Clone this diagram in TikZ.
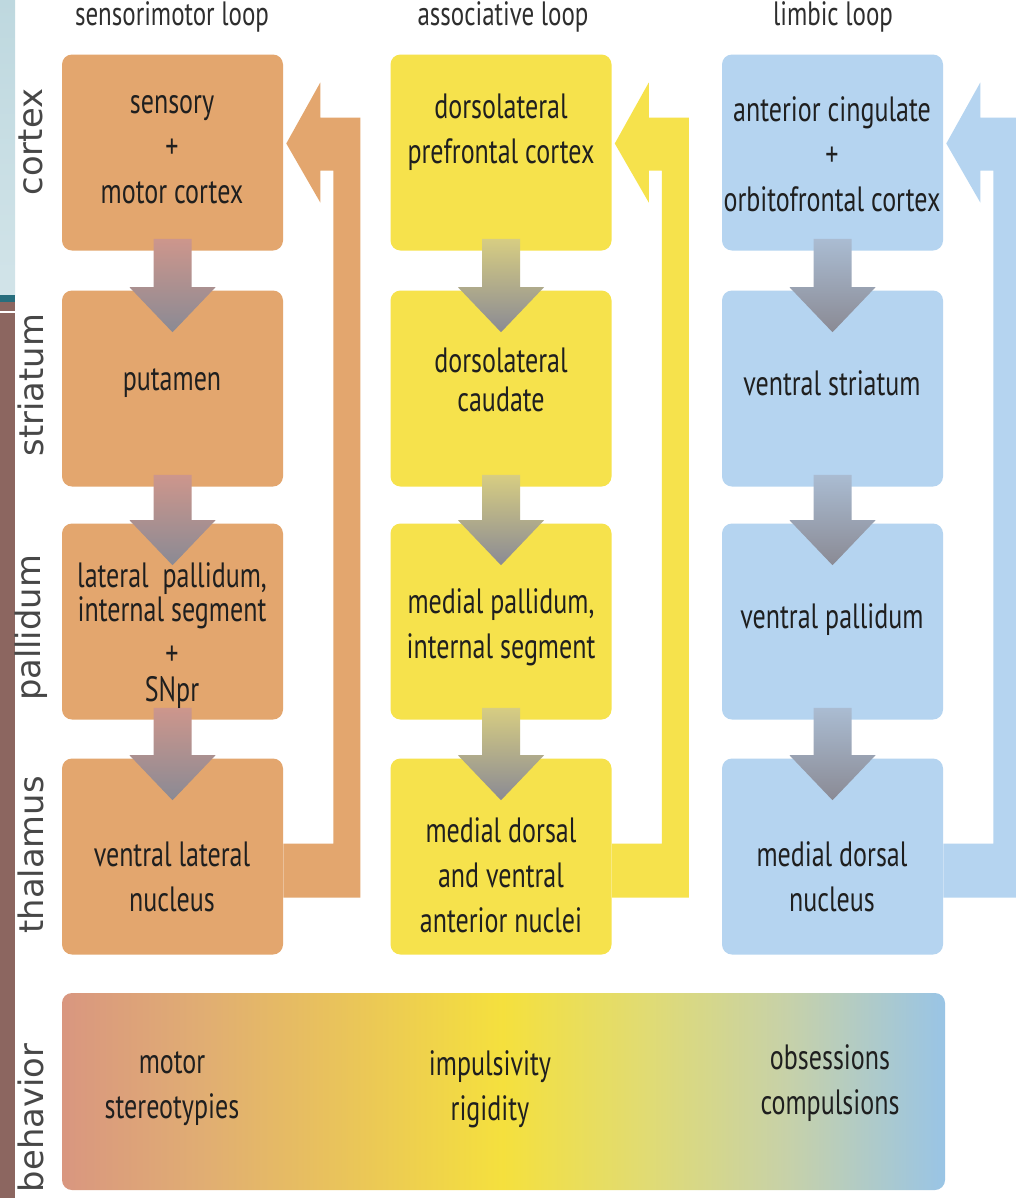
\documentclass[tikz,border=0pt]{standalone}
\usepackage{fontspec}
\setmainfont[FakeStretch=0.74]{PT Sans}
\newfontfamily\rowfont{DejaVu Sans}
\usetikzlibrary{calc,positioning,shapes.misc}

\definecolor{colorSM}{RGB}{227,166,110}
\definecolor{colorAS}{RGB}{246,226,76}
\definecolor{colorLI}{RGB}{181,212,240}
\definecolor{colorGR}{RGB}{138,138,148}
\definecolor{colorSMtop}{RGB}{205,150,140}
\definecolor{colorAStop}{RGB}{215,205,130}
\definecolor{colorLItop}{RGB}{170,188,210}
\definecolor{colorSlide}{RGB}{140,102,96}
\definecolor{colorSlideTop}{RGB}{190,216,223}
\definecolor{colorSlideLine}{RGB}{40,110,125}

\pgfdeclarehorizontalshading{behaviorshade}{100bp}{%
  rgb(0bp)=(0.85,0.59,0.50); rgb(25bp)=(0.85,0.59,0.50);
  rgb(33bp)=(0.88,0.68,0.45); rgb(42bp)=(0.92,0.78,0.34);
  rgb(50bp)=(0.96,0.88,0.24); rgb(58bp)=(0.88,0.86,0.45);
  rgb(66bp)=(0.78,0.82,0.66); rgb(75bp)=(0.60,0.77,0.90);
  rgb(100bp)=(0.60,0.77,0.90)}

\tikzset{
   every path/.style={>=stealth},
   box/.style={fill=#1, rounded corners=0.25cm, inner sep=0pt,
      minimum width=221*0.025cm, minimum height=196*0.025cm},
   behav/.style={shading=behaviorshade, rounded corners=0.25cm, inner sep=0pt,
      minimum width=883*0.025cm, minimum height=197*0.025cm},
   txt/.style={align=center, text=black!88, inner sep=0pt,
      font=\fontsize{25}{32}\selectfont},
   looptitle/.style={text=black!82, inner sep=0pt,
      font=\fontsize{24}{28}\selectfont},
   rowlabel/.style={rotate=90, text=black!72, inner sep=0pt,
      font=\rowfont\fontsize{24}{28}\selectfont},
}

% down arrow: from box, to box, top colour
\newcommand{\flowdown}[3]{%
  \shade[top color=#3, bottom color=colorGR]
    ($(#1.south)+(-19,-12)$) -- ($(#2.north)+(-19,-3)$)
    -- ($(#2.north)+(-43,-3)$) -- ($(#2.north)+(0,42)$)
    -- ($(#2.north)+(43,-3)$) -- ($(#2.north)+(19,-3)$)
    -- ($(#1.south)+(19,-12)$) -- cycle;
}

% feedback arrow: from thalamus box, to cortex box, colour
\newcommand{\loopback}[3]{%
  \fill[#3]
    ($(#1.east)+(0,-13)$) -- ($(#1.east)+(50,-13)$)
    -- ($(#2.east)+(50,18)$) -- ($(#2.east)+(37,18)$)
    -- ($(#2.east)+(37,50)$) -- ($(#2.east)+(3,-9)$)
    -- ($(#2.east)+(37,-70)$) -- ($(#2.east)+(37,-35)$)
    -- ($(#2.east)+(77,-35)$) -- ($(#1.east)+(77,41)$)
    -- ($(#1.east)+(0,41)$) -- cycle;
}

\begin{document}
\begin{tikzpicture}[x=0.025cm, y=-0.025cm]

\useasboundingbox (0,0) rectangle (1015,1198);
\fill[white] (0,0) rectangle (1015,1198);

% slide edge on the left
\shade[top color=colorSlideTop, bottom color=colorSlideTop!70!white] (0,0) rectangle (15,295);
\fill[colorSlideLine] (0,295) rectangle (15,302);
\fill[colorSlide] (0,302) rectangle (15,1198);
\fill[white] (0,311) rectangle (15,313);

% =========================================================
% loop titles and rows
% =========================================================

\node[looptitle] (t-sm) at (172,17) {sensorimotor loop};
\node[looptitle] (t-as) at (503,17) {associative loop};
\node[looptitle] (t-li) at (833,17) {limbic loop};

\node[rowlabel] (r-ctx) at (31,142) {cortex};
\node[rowlabel] (r-str) at (31,385) {striatum};
\node[rowlabel] (r-pal) at (31,628) {pallidum};
\node[rowlabel] (r-tha) at (31,855) {thalamus};
\node[rowlabel] (r-beh) at (31,1118) {behavior};

% =========================================================
% boxes
% =========================================================

\node[box=colorSM] (sm-ctx) at (172.5,152.5) {};
\node[box=colorSM] (sm-str) at (172.5,388.5) {};
\node[box=colorSM] (sm-pal) at (172.5,621.5) {};
\node[box=colorSM] (sm-tha) at (172.5,856.5) {};

\node[box=colorAS] (as-ctx) at (501,152.5) {};
\node[box=colorAS] (as-str) at (501,388.5) {};
\node[box=colorAS] (as-pal) at (501,621.5) {};
\node[box=colorAS] (as-tha) at (501,856.5) {};

\node[box=colorLI] (li-ctx) at (832.5,152.5) {};
\node[box=colorLI] (li-str) at (832.5,388.5) {};
\node[box=colorLI] (li-pal) at (832.5,621.5) {};
\node[box=colorLI] (li-tha) at (832.5,856.5) {};

\node[behav] (beh) at (503.5,1091.5) {};

% =========================================================
% arrows
% =========================================================

\loopback{sm-tha}{sm-ctx}{colorSM}
\loopback{as-tha}{as-ctx}{colorAS}
\loopback{li-tha}{li-ctx}{colorLI}

\flowdown{sm-ctx}{sm-str}{colorSMtop}
\flowdown{sm-str}{sm-pal}{colorSMtop}
\flowdown{sm-pal}{sm-tha}{colorSMtop}

\flowdown{as-ctx}{as-str}{colorAStop}
\flowdown{as-str}{as-pal}{colorAStop}
\flowdown{as-pal}{as-tha}{colorAStop}

\flowdown{li-ctx}{li-str}{colorLItop}
\flowdown{li-str}{li-pal}{colorLItop}
\flowdown{li-pal}{li-tha}{colorLItop}

% =========================================================
% texts
% =========================================================

\node[txt] (sm-ctx-t) at (172,150) {sensory\\+\\motor cortex};
\node[txt] (sm-str-t) at (172,383) {putamen};
\node[txt] (sm-pal-t) at (172,636) {lateral\ \ pallidum,\\[-8pt]internal segment\\[-1pt]+\\[-6pt]SNpr};
\node[txt] (sm-tha-t) at (172,877) {ventral lateral\\nucleus};

\node[txt] (as-ctx-t) at (501,132) {dorsolateral\\prefrontal cortex};
\node[txt] (as-str-t) at (501,380) {dorsolateral\\[-4pt]caudate};
\node[txt] (as-pal-t) at (501,627) {medial pallidum,\\internal segment};
\node[txt] (as-tha-t) at (501,875) {medial dorsal\\and ventral\\anterior nuclei};

\node[txt] (li-ctx-t) at (832,154) {anterior cingulate\\+\\orbitofrontal cortex};
\node[txt] (li-str-t) at (832,383) {ventral striatum};
\node[txt] (li-pal-t) at (832,620) {ventral pallidum};
\node[txt] (li-tha-t) at (832,877) {medial dorsal\\nucleus};

\node[txt] (beh-sm) at (172,1089) {motor\\stereotypies};
\node[txt] (beh-as) at (490,1089) {impulsivity\\rigidity};
\node[txt] (beh-li) at (830,1083) {obsessions\\compulsions};

\end{tikzpicture}
\end{document}
